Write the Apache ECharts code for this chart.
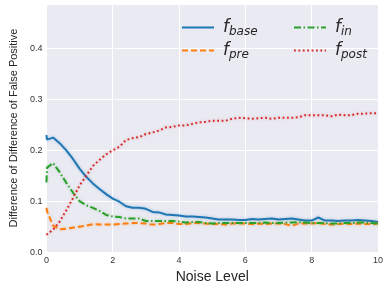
<!DOCTYPE html>
<html>
<head>
<meta charset="utf-8">
<script src="https://cdn.jsdelivr.net/npm/echarts@6/dist/echarts.min.js"></script>
<style>
  html, body { margin: 0; padding: 0; background: #fff; }
  #main { width: 386px; height: 289px; }
</style>
</head>
<body>
<div id="main"></div>
<script>
// noise levels (x)
var noise = [0, 0.02, 0.2, 0.4, 0.6, 0.8, 1.0, 1.2, 1.4, 1.6, 1.8, 2.0, 2.2, 2.4, 2.6, 2.8, 3.0,
  3.2, 3.4, 3.6, 3.8, 4.0, 4.2, 4.4, 4.6, 4.8, 5.0, 5.2, 5.4, 5.6, 5.8, 6.0, 6.2, 6.4, 6.6, 6.8,
  7.0, 7.2, 7.4, 7.6, 7.8, 8.0, 8.2, 8.4, 8.6, 8.8, 9.0, 9.2, 9.4, 9.6, 9.8, 10];

var fBase = [0.230, 0.221, 0.225, 0.214, 0.200, 0.183, 0.164, 0.148, 0.135, 0.124, 0.114, 0.105,
  0.099, 0.090, 0.087, 0.087, 0.085, 0.079, 0.078, 0.074, 0.073, 0.072, 0.070, 0.070, 0.069, 0.068,
  0.066, 0.064, 0.064, 0.064, 0.063, 0.063, 0.065, 0.064, 0.065, 0.066, 0.064, 0.065, 0.066, 0.064,
  0.062, 0.062, 0.068, 0.062, 0.062, 0.061, 0.062, 0.062, 0.063, 0.062, 0.061, 0.059];

var fPre = [0.087, 0.080, 0.052, 0.045, 0.046, 0.048, 0.050, 0.052, 0.055, 0.054, 0.054, 0.054,
  0.055, 0.056, 0.057, 0.057, 0.056, 0.054, 0.055, 0.057, 0.057, 0.055, 0.055, 0.057, 0.057, 0.056,
  0.055, 0.055, 0.054, 0.056, 0.056, 0.056, 0.055, 0.056, 0.055, 0.056, 0.056, 0.055, 0.052, 0.056,
  0.056, 0.056, 0.057, 0.055, 0.054, 0.055, 0.056, 0.055, 0.056, 0.055, 0.055, 0.056];

var fIn = [0.137, 0.166, 0.175, 0.157, 0.136, 0.117, 0.100, 0.092, 0.087, 0.081, 0.073, 0.070,
  0.069, 0.066, 0.066, 0.066, 0.061, 0.061, 0.061, 0.061, 0.061, 0.060, 0.058, 0.059, 0.059, 0.057,
  0.056, 0.057, 0.057, 0.057, 0.057, 0.057, 0.057, 0.057, 0.058, 0.057, 0.057, 0.058, 0.058, 0.059,
  0.058, 0.057, 0.057, 0.057, 0.056, 0.056, 0.057, 0.057, 0.058, 0.058, 0.057, 0.056];

var fPost = [0.034, 0.035, 0.044, 0.060, 0.082, 0.106, 0.131, 0.150, 0.169, 0.181, 0.192, 0.200,
  0.207, 0.220, 0.224, 0.226, 0.232, 0.235, 0.239, 0.245, 0.246, 0.249, 0.249, 0.252, 0.255, 0.256,
  0.258, 0.258, 0.258, 0.262, 0.264, 0.263, 0.262, 0.263, 0.264, 0.262, 0.264, 0.264, 0.264, 0.265,
  0.269, 0.269, 0.269, 0.269, 0.267, 0.270, 0.269, 0.269, 0.272, 0.272, 0.273, 0.273];

var names = ['base', 'pre', 'in', 'post'];

function pairs(ys) {
  var out = [];
  for (var i = 0; i < noise.length; i++) out.push([noise[i], ys[i]]);
  return out;
}

function mkSeries(name, ys, color, dash) {
  return {
    name: name,
    type: 'line',
    data: pairs(ys),
    symbol: 'none',
    animation: false,
    lineStyle: {
      color: color,
      width: 2,
      type: dash,
      shadowBlur: 3,
      shadowColor: color + '55'
    }
  };
}

var legendText = {
  formatter: function (n) { return '{f|f}{s|' + n + '}'; },
  textStyle: {
    rich: {
      f: { fontFamily: 'DejaVu Sans', fontStyle: 'italic', fontSize: 17, color: '#262626', padding: [0, 0, 0, 4] },
      s: { fontFamily: 'DejaVu Sans', fontStyle: 'italic', fontSize: 12, color: '#262626', padding: [9, 0, 0, 0] }
    }
  }
};

var myChart = echarts.init(document.getElementById('main'));
myChart.setOption({
  backgroundColor: '#ffffff',
  grid: {
    left: 42.7, right: 6.7, top: 4, bottom: 34,
    show: true, backgroundColor: '#EAEAF2', borderWidth: 0
  },
  legend: [
    Object.assign({
      data: ['base', 'pre'], orient: 'vertical', left: 176, top: 14,
      itemWidth: 32, itemHeight: 20, itemGap: 4, itemStyle: { opacity: 0 }
    }, legendText),
    Object.assign({
      data: ['in', 'post'], orient: 'vertical', left: 288, top: 14,
      itemWidth: 32, itemHeight: 20, itemGap: 4, itemStyle: { opacity: 0 }
    }, legendText)
  ],
  xAxis: {
    type: 'value', min: 0, max: 10, interval: 2,
    name: 'Noise Level', nameLocation: 'middle', nameGap: 13,
    nameTextStyle: { fontFamily: 'Liberation Sans', fontSize: 14, color: '#262626' },
    axisLine: { show: false }, axisTick: { show: false },
    axisLabel: { fontFamily: 'Liberation Sans', fontSize: 9, color: '#333333', margin: 4 },
    splitLine: { lineStyle: { color: '#ffffff', width: 1 } }
  },
  yAxis: {
    type: 'value', min: 0, max: 0.4875, interval: 0.1,
    name: 'Difference of Difference of False Positive', nameLocation: 'middle', nameGap: 20,
    nameTextStyle: { fontFamily: 'Liberation Sans', fontSize: 11, color: '#262626' },
    axisLine: { show: false }, axisTick: { show: false },
    axisLabel: {
      fontFamily: 'Liberation Sans', fontSize: 9, color: '#333333', margin: 4, showMaxLabel: false,
      formatter: function (v) { return v.toFixed(1); }
    },
    splitLine: { lineStyle: { color: '#ffffff', width: 1 } }
  },
  series: [
    mkSeries(names[0], fBase, '#1f77b4', 'solid'),
    mkSeries(names[1], fPre, '#ff7f0e', [6, 3]),
    mkSeries(names[2], fIn, '#2ca02c', [7, 2.5, 1.5, 2.5]),
    mkSeries(names[3], fPost, '#d62728', [1.8, 2.6])
  ]
});
</script>
</body>
</html>
